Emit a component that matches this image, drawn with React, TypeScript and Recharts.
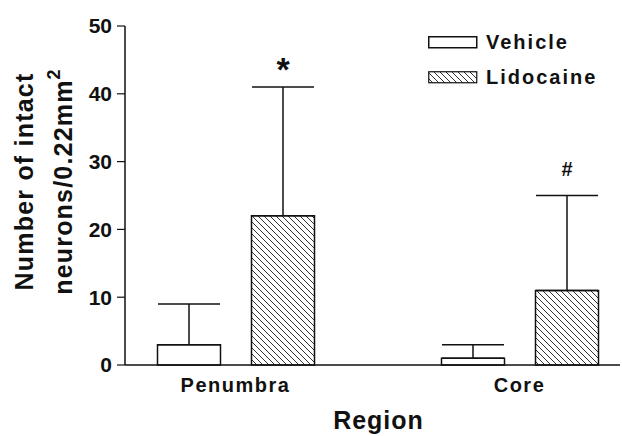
import React from "react";
import { BarChart, Bar, XAxis, YAxis, ErrorBar, LabelList, Legend } from "recharts";

const regions = ["Penumbra", "Core"];
const vehicleMean = [3, 1];
const vehicleErr = [6, 2];
const lidocaineMean = [22, 11];
const lidocaineErr = [19, 14];
const marks = ["*", "#"];
const yTicks = [0, 10, 20, 30, 40, 50];

const data = regions.map((region, i) => ({
  region,
  vehicle: vehicleMean[i],
  vehicleErr: [0, vehicleErr[i]],
  lidocaine: lidocaineMean[i],
  lidocaineErr: [0, lidocaineErr[i]],
  mark: marks[i],
}));

const FONT = '"Liberation Sans", Arial, Helvetica, sans-serif';

// y axis title, two rotated lines
const YTitle = (props: any) => {
  const vb = props.viewBox || { x: 0, y: 26, width: 125, height: 339 };
  const cy = vb.y + vb.height / 2 - 14;
  const x1 = vb.x + 33;
  const x2 = vb.x + 72;
  return (
    <g fontFamily={FONT} fontWeight="bold" fontSize={25} fill="#111" letterSpacing={1.2}>
      <text x={x1} y={cy} textAnchor="middle" transform={`rotate(-90, ${x1}, ${cy})`}>
        Number of intact
      </text>
      <text x={x2} y={cy} textAnchor="middle" transform={`rotate(-90, ${x2}, ${cy})`}>
        neurons/0.22mm
        <tspan dy={-12} fontSize={18}>2</tspan>
      </text>
    </g>
  );
};

const XTitle = (props: any) => {
  const vb = props.viewBox || { x: 125, y: 365, width: 495, height: 71 };
  return (
    <text
      x={vb.x + vb.width / 2 + 6}
      y={vb.y + 64}
      textAnchor="middle"
      fontFamily={FONT}
      fontWeight="bold"
      fontSize={25}
      letterSpacing={1}
      fill="#111"
    >
      Region
    </text>
  );
};

const renderMark = (props: any) => {
  const { x, y, width, height, value, index } = props;
  const ppu = height / lidocaineMean[index];
  const top = y - lidocaineErr[index] * ppu;
  const star = value === "*";
  return (
    <text
      x={x + width / 2}
      y={star ? top - 6 : top - 20}
      textAnchor="middle"
      fontFamily={FONT}
      fontWeight="bold"
      fontSize={star ? 34 : 20}
      fill="#111"
    >
      {value}
    </text>
  );
};

const renderLegend = () => (
  <svg width={192} height={60} style={{ display: "block", overflow: "visible" }}>
    <rect x={0.75} y={6.75} width={48} height={11} fill="#fff" stroke="#111" strokeWidth={1.5} />
    <rect x={0.75} y={41.75} width={48} height={11} fill="url(#hatch)" stroke="#111" strokeWidth={1.2} />
    <g fontFamily={FONT} fontWeight="bold" fontSize={20} fill="#111" letterSpacing={2}>
      <text x={58} y={19}>Vehicle</text>
      <text x={58} y={54}>Lidocaine</text>
    </g>
  </svg>
);

export default function App() {
  return (
    <div style={{ position: "absolute", left: 0, top: 0, background: "#fff" }}>
      <BarChart
        width={622}
        height={436}
        data={data}
        margin={{ top: 26, right: 2, bottom: 0, left: 0 }}
        barSize={63}
        barGap={31}
      >
        <defs>
          <pattern id="hatch" patternUnits="userSpaceOnUse" width={6} height={6}>
            <rect width={6} height={6} fill="#fff" />
            <path d="M-1,-1 L7,7 M-1,5 L1,7 M5,-1 L7,1" stroke="#333" strokeWidth={1} />
          </pattern>
        </defs>
        <XAxis
          dataKey="region"
          height={71}
          padding={{ left: -31.5, right: -41.5 }}
          axisLine={{ stroke: "#111", strokeWidth: 1.5 }}
          tickLine={false}
          tickSize={6}
          tickMargin={7}
          tick={{ fill: "#111", fontFamily: FONT, fontWeight: "bold", fontSize: 20, letterSpacing: 1.5 }}
          label={{ content: XTitle }}
        />
        <YAxis
          width={125}
          domain={[0, 50]}
          ticks={yTicks}
          interval={0}
          axisLine={{ stroke: "#111", strokeWidth: 1.5 }}
          tickLine={{ stroke: "#111", strokeWidth: 1.2 }}
          tickSize={8}
          tickMargin={5}
          tick={{ fill: "#111", fontFamily: FONT, fontWeight: "bold", fontSize: 21 }}
          label={{ content: YTitle }}
        />
        <Legend
          layout="horizontal"
          verticalAlign="middle"
          align="center"
          content={renderLegend}
          wrapperStyle={{ position: "absolute", left: 428, top: 30, width: 192, height: 60 }}
        />
        <Bar dataKey="vehicle" name="Vehicle" fill="#fff" stroke="#111" strokeWidth={1.5} isAnimationActive={false}>
          <ErrorBar dataKey="vehicleErr" direction="y" width={31} stroke="#111" strokeWidth={1.5} />
        </Bar>
        <Bar dataKey="lidocaine" name="Lidocaine" fill="url(#hatch)" stroke="#111" strokeWidth={1.5} isAnimationActive={false}>
          <ErrorBar dataKey="lidocaineErr" direction="y" width={31} stroke="#111" strokeWidth={1.5} />
          <LabelList dataKey="mark" content={renderMark} />
        </Bar>
      </BarChart>
    </div>
  );
}
